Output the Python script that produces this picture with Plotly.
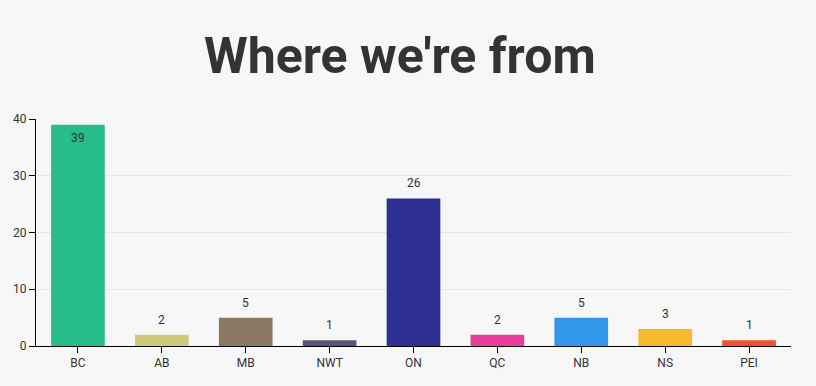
import plotly.graph_objects as go

provinces = ["BC", "AB", "MB", "NWT", "ON", "QC", "NB", "NS", "PEI"]
counts = [39, 2, 5, 1, 26, 2, 5, 3, 1]
colors = ["#27bd8b", "#cfc97b", "#8a7761", "#575878", "#2e3192",
          "#e83d9b", "#3297ea", "#f7b92e", "#f25031"]
y_ticks = [0, 10, 20, 30, 40]

fig = go.Figure(go.Bar(
    x=provinces, y=counts, marker=dict(color=colors, line=dict(width=0)),
    width=0.64, cliponaxis=False, hoverinfo="x+y",
))

for p, c in zip(provinces, counts):
    inside = c >= 35
    fig.add_annotation(
        x=p, y=c, text=str(c), showarrow=False,
        yanchor="top" if inside else "bottom",
        yshift=-4 if inside else 6,
        font=dict(family="Roboto", size=12, color="#333333"),
    )

fig.update_layout(
    width=816, height=386,
    margin=dict(l=36, r=25, t=119, b=40),
    paper_bgcolor="#f7f7f7", plot_bgcolor="#f7f7f7",
    title=dict(text="<b>Where we're from</b>", x=0.49, xanchor="center",
               y=0.855, yanchor="middle",
               font=dict(family="Roboto", size=50, color="#333333")),
    showlegend=False,
    xaxis=dict(showline=True, linecolor="#000000", linewidth=1,
               ticks="outside", ticklen=6, tickcolor="#000000",
               tickfont=dict(family="Roboto", size=12, color="#333333"),
               showgrid=False),
    yaxis=dict(range=[0, 40], tickvals=y_ticks, showline=True,
               linecolor="#000000", linewidth=1, ticks="outside", ticklen=6,
               tickcolor="#000000", gridcolor="#e6e6e6",
               tickfont=dict(family="Roboto", size=12, color="#333333"),
               zeroline=False),
)

fig.write_html("out.html")
